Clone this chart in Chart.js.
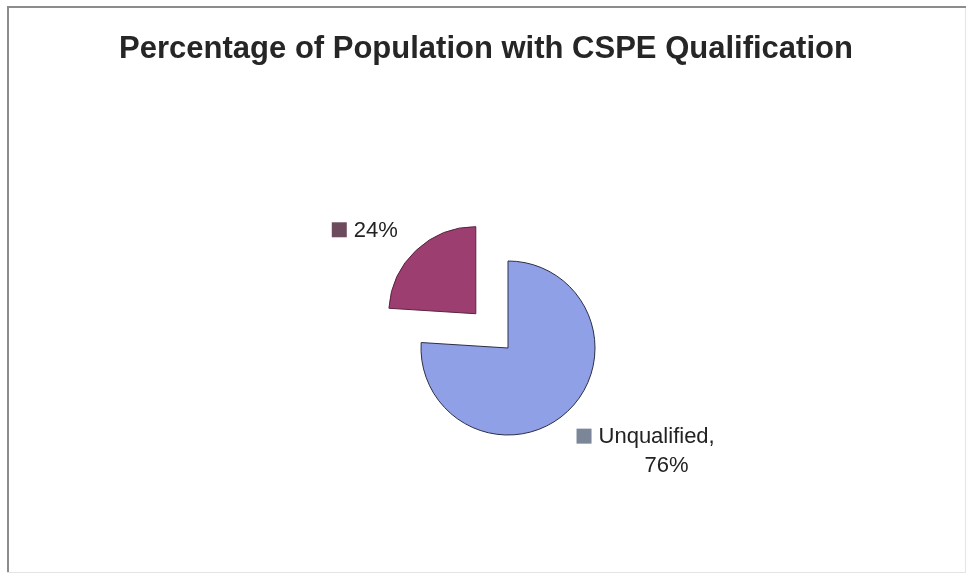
<!DOCTYPE html>
<html>
<head>
<meta charset="utf-8">
<script src="https://cdn.jsdelivr.net/npm/chart.js@4.4.0/dist/chart.umd.min.js"></script>
<style>
  html, body { margin: 0; padding: 0; background: #fff; }
  #wrap { width: 970px; height: 575px; }
</style>
</head>
<body>
<div id="wrap"><canvas id="myChart" width="970" height="575"></canvas></div>
<script>
const chartTitle = 'Percentage of Population with CSPE Qualification';
const categories = ['Qualified', 'Unqualified'];
const shares = [24, 76];
// order in the picture: the big slice starts at 12 o'clock
const sliceLabels = ['Unqualified', ''];
const sliceValues = [shares[1], shares[0]];
const sliceColors = ['#8fa0e6', '#9c3f70'];
const keyColors = ['#7b8699', '#6e4a5e'];

// label placement relative to each slice (pixels along the bisector, then a nudge)
const labelPlace = [
  { dist: 160, dx: -41, dy: -14, secondLineShift: 10 },
  { dist: 180, dx: -53, dy: 13, secondLineShift: 0 }
];

const frameAndTitle = {
  id: 'frameAndTitle',
  beforeDraw(chart) {
    const ctx = chart.ctx;
    ctx.save();
    ctx.fillStyle = '#ffffff';
    ctx.fillRect(0, 0, chart.width, chart.height);
    ctx.strokeStyle = '#e4e4e4';
    ctx.lineWidth = 1;
    ctx.strokeRect(7.5, 7.5, 958, 565);
    ctx.strokeStyle = '#8c8c8c';
    ctx.lineWidth = 2;
    ctx.beginPath();
    ctx.moveTo(8, 572);
    ctx.lineTo(8, 7);
    ctx.lineTo(966, 7);
    ctx.stroke();
    ctx.fillStyle = '#262626';
    ctx.font = 'bold 31px "Liberation Sans", Arial, sans-serif';
    ctx.textAlign = 'center';
    ctx.textBaseline = 'middle';
    ctx.fillText(chartTitle, 486, 49);
    ctx.restore();
  }
};

const sliceLabelPlugin = {
  id: 'sliceLabels',
  afterDatasetsDraw(chart) {
    const ctx = chart.ctx;
    const meta = chart.getDatasetMeta(0);
    const total = sliceValues.reduce((a, b) => a + b, 0);
    ctx.save();
    ctx.font = '22px "Liberation Sans", Arial, sans-serif';
    ctx.textBaseline = 'middle';
    meta.data.forEach((arc, i) => {
      const mid = (arc.startAngle + arc.endAngle) / 2;
      const p = labelPlace[i];
      const left = arc.x + Math.cos(mid) * p.dist + p.dx;
      const cy = arc.y + Math.sin(mid) * p.dist + p.dy;
      const pct = Math.round(sliceValues[i] / total * 100) + '%';
      const lines = sliceLabels[i] ? [sliceLabels[i] + ',', pct] : [pct];
      const textW = Math.max(...lines.map((l) => ctx.measureText(l).width));
      const key = 15, gap = 7;
      const lineH = 29;
      const top = cy - (lines.length - 1) * lineH / 2;
      ctx.fillStyle = keyColors[i];
      ctx.fillRect(left, top - key / 2, key, key);
      ctx.fillStyle = '#222222';
      ctx.textAlign = 'center';
      lines.forEach((l, j) => {
        const tx = left + key + gap + textW / 2 + (j > 0 ? p.secondLineShift : 0);
        ctx.fillText(l, tx, top + j * lineH + 1);
      });
    });
    ctx.restore();
  }
};

new Chart(document.querySelector('#myChart'), {
  type: 'pie',
  data: {
    labels: sliceLabels,
    datasets: [{
      data: sliceValues,
      backgroundColor: sliceColors,
      borderColor: ['#2b2f45', '#5a2440'],
      borderWidth: 1,
      // Chart.js moves a slice by offset / 4
      offset: [0, 188]
    }]
  },
  options: {
    responsive: false,
    animation: false,
    radius: 87,
    layout: { padding: { top: 121, bottom: 0, left: 46, right: 0 } },
    plugins: {
      legend: { display: false },
      title: { display: false },
      tooltip: { enabled: false }
    }
  },
  plugins: [frameAndTitle, sliceLabelPlugin]
});
</script>
</body>
</html>
